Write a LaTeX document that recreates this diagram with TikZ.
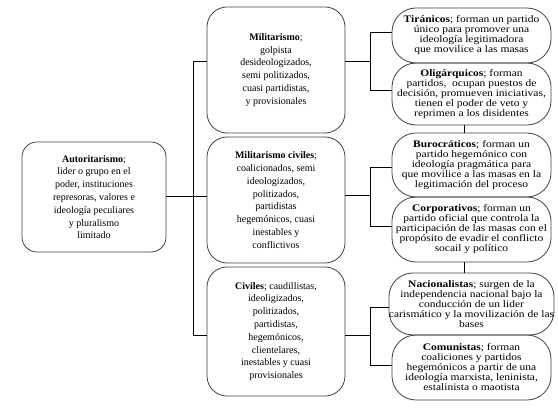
\documentclass[tikz,border=0pt]{standalone}
\usepackage{fontspec}
\setmainfont{Liberation Serif}
\newfontfamily\rfont[FakeStretch=1.15]{Liberation Serif}
\begin{document}
\begin{tikzpicture}[x=1pt,y=-1pt,
  box/.style={draw=black!75, line width=0.8pt, align=center, inner sep=0pt,
    font=\fontsize{10}{12.8}\selectfont},
  lbox/.style={box, rounded corners=15pt, minimum width=144pt, minimum height=110pt},
  mbox/.style={box, rounded corners=20pt, minimum width=138pt},
  rbox/.style={box, rounded corners=24pt, minimum width=159pt,
    font=\rfont\fontsize{10}{10}\selectfont},
  conn/.style={draw=black, line width=0.8pt}]
\useasboundingbox (0,0) rectangle (558,411);

\node[lbox] (L) at (94,197) {\textbf{Autoritarismo};\\ lider o grupo en el\\ poder, instituciones\\ represoras, valores e\\ ideología peculiares\\ y pluralismo\\ limitado};

\node[mbox, minimum height=126pt] (m1) at (276,70) {\textbf{Militarismo};\\ golpista\\ desideologizados,\\ semi politizados,\\ cuasi partidistas,\\ y provisionales};
\node[mbox, minimum height=126pt] (m2) at (276,200) {\textbf{Militarismo civiles};\\ coalicionados, semi\\ ideologizados,\\ politizados,\\ partidistas\\ hegemónicos, cuasi\\ inestables y\\ conflictivos};
\node[mbox, minimum height=129pt] (m3) at (276,331.5) {\textbf{Civiles}; caudillistas,\\ ideoligizados,\\ politizados,\\ partidistas,\\ hegemónicos,\\ clientelares,\\ inestables y cuasi\\ provisionales};

\node[rbox, minimum height=55pt] (r1) at (471.5,35.5) {\textbf{Tiránicos}; forman un partido\\ único para promover una\\ ideología legitimadora\\ que movilice a las masas};
\node[rbox, minimum height=62pt] (r2) at (471.5,94) {\textbf{Oligárquicos}; forman\\ partidos,~ ocupan puestos de\\ decisión, promueven iniciativas,\\ tienen el poder de veto y\\ reprimen a los disidentes};
\node[rbox, minimum height=64pt] (r3) at (471.5,165) {\textbf{Burocráticos}; forman un\\ partido hegemónico con\\ ideología pragmática para\\ que movilice a las masas en la\\ legitimación del proceso};
\node[rbox, minimum height=65pt] (r4) at (471.5,229.5) {\textbf{Corporativos}; forman un\\ partido oficial que controla la\\ participación de las masas con el\\ propósito de evadir el conflicto\\ socail y político};
\node[rbox, minimum height=62pt] (r5) at (471.5,304) {\textbf{Nacionalistas}; surgen de la\\ independencia nacional bajo la\\ conducción de un lider\\ carismático y la movilización de las\\ bases};
\node[rbox, minimum height=65pt] (r6) at (471.5,367.5) {\textbf{Comunistas}; forman\\ coaliciones y partidos\\ hegemónicos a partir de una\\ ideología marxista, leninista,\\ estalinista o maotista};

% trunk
\coordinate (t1) at (193,61);
\coordinate (t2) at (193,196);
\coordinate (t3) at (193,335);
\draw[conn] (t2 -| L.east) -- (t2);
\draw[conn] (t1) -- (t3);
\draw[conn] (t1) -- (t1 -| m1.west);
\draw[conn] (t2) -- (t2 -| m2.west);
\draw[conn] (t3) -- (t3 -| m3.west);

% brackets
\coordinate (b1) at (370,61);
\coordinate (b1a) at (370,32);
\coordinate (b1b) at (370,90);
\draw[conn] (b1 -| m1.east) -- (b1);
\draw[conn] (b1a -| r1.west) -- (b1a) -- (b1b) -- (b1b -| r2.west);

\coordinate (b2) at (370,195);
\coordinate (b2a) at (370,167);
\coordinate (b2b) at (370,226);
\draw[conn] (b2 -| m2.east) -- (b2);
\draw[conn] (b2a -| r3.west) -- (b2a) -- (b2b) -- (b2b -| r4.west);

\coordinate (b3) at (370,335);
\coordinate (b3a) at (370,307);
\coordinate (b3b) at (370,365);
\draw[conn] (b3 -| m3.east) -- (b3);
\draw[conn] (b3a -| r5.west) -- (b3a) -- (b3b) -- (b3b -| r6.west);

% vertical links between right groups
\coordinate (v) at (464,0);
\draw[conn] (v |- r2.south) -- (v |- r3.north);
\draw[conn] (v |- r4.south) -- (v |- r5.north);
\end{tikzpicture}
\end{document}
